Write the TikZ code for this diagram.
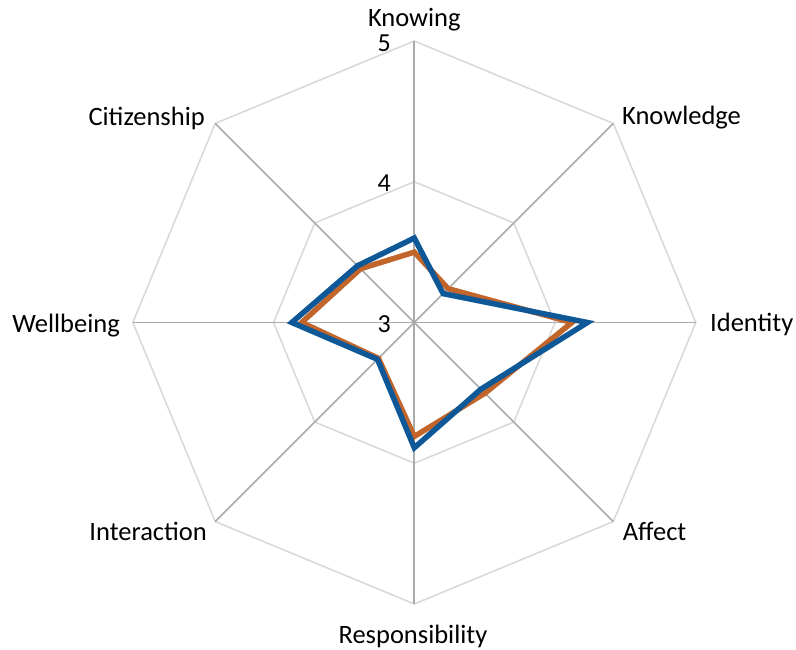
\documentclass[tikz,border=0pt]{standalone}
\usepackage{fontspec}
\setmainfont{Carlito}
\definecolor{ringgray}{HTML}{D9D9D9}
\definecolor{spokegray}{HTML}{ABABAB}
\definecolor{seriesblue}{RGB}{14,88,152}
\definecolor{seriesorange}{RGB}{193,101,43}
\tikzset{
  ring/.style={ringgray,line width=1.6pt},
  spoke/.style={spokegray,line width=1.6pt},
  axislabel/.style={font=\fontsize{26.5}{31}\selectfont,inner sep=0pt},
  ticklabel/.style={font=\fontsize{26}{31}\selectfont,inner sep=0pt,anchor=base east},
  series/.style={line width=5.5pt,line join=miter}
}
\begin{document}
\begin{tikzpicture}[x=1pt,y=1pt]
  \useasboundingbox (-414.3,-327.5) rectangle (381.7,322.5);
  % rings for 4 and 5
  \foreach \r in {140.75,281.5}
    \draw[ring] (0:\r) \foreach \a in {45,90,...,315} {-- (\a:\r)} -- cycle;
  % spokes
  \foreach \a/\name in {90/knowing,45/knowledge,0/identity,-45/affect,-90/responsibility,-135/interaction,180/wellbeing,135/citizenship}
    \draw[spoke] (0,0) -- (\a:281.5) coordinate (\name);

  % scale
  \node[ticklabel] (t5) at (-23.3,270.5) {5};
  \node[ticklabel] (t4) at (-23.3,130.5) {4};
  \node[ticklabel] (t3) at (-23.3,-10.2) {3};

  % category labels
  \node[axislabel,anchor=base] (lknowing) at (0,295.5) {Knowing};
  \node[axislabel,anchor=base west] (lknowledge) at (207.7,197.5) {Knowledge};
  \node[axislabel,anchor=base west] (lidentity) at (295.7,-9.5) {Identity};
  \node[axislabel,anchor=base west] (laffect) at (208.4,-218.2) {Affect};
  \node[axislabel,anchor=base] (lresponsibility) at (-1.3,-320.8) {Responsibility};
  \node[axislabel,anchor=base east] (linteraction) at (-207.3,-218.5) {Interaction};
  \node[axislabel,anchor=base east] (lwellbeing) at (-294.3,-10.2) {Wellbeing};
  \node[axislabel,anchor=base east] (lcitizenship) at (-209.3,196.5) {Citizenship};

  % series points
  \foreach \a/\v [count=\i] in {90/3.50,45/3.34,0/4.12,-45/3.71,-90/3.81,-135/3.36,180/3.80,135/3.54}
    \coordinate (o\i) at (\a:{(\v-3)*140.75});
  \foreach \a/\v [count=\i] in {90/3.60,45/3.29,0/4.23,-45/3.67,-90/3.89,-135/3.37,180/3.87,135/3.57}
    \coordinate (b\i) at (\a:{(\v-3)*140.75});

  \draw[series,seriesorange] (o1) -- (o2) -- (o3) -- (o4) -- (o5) -- (o6) -- (o7) -- (o8) -- cycle;
  \draw[series,seriesblue] (b1) -- (b2) -- (b3) -- (b4) -- (b5) -- (b6) -- (b7) -- (b8) -- cycle;
\end{tikzpicture}
\end{document}
